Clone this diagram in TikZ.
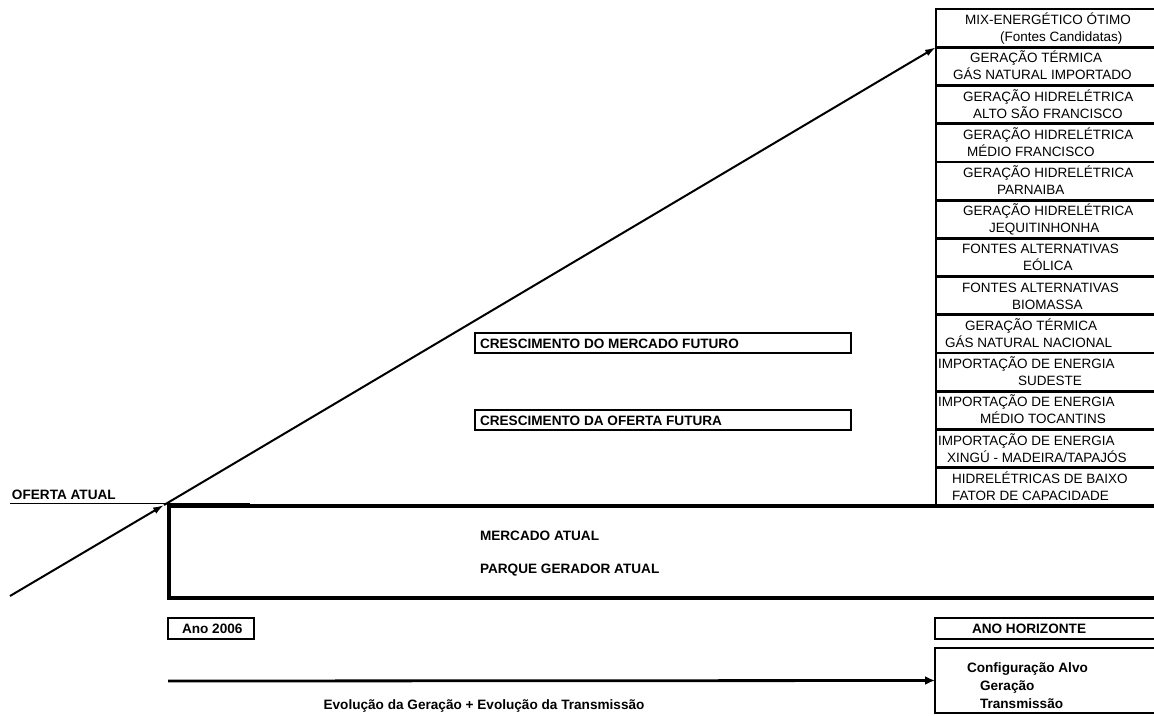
\documentclass[tikz,border=0pt]{standalone}
\usepackage{fontspec}
\setmainfont{Liberation Sans}
\usetikzlibrary{arrows.meta}
\begin{document}
\begin{tikzpicture}[x=1pt,y=-1pt,
  every node/.style={inner sep=0pt,outer sep=0pt},
  lbl/.style={anchor=base west,font=\fontsize{13.5}{15}\selectfont},
  blbl/.style={anchor=base west,font=\bfseries\fontsize{13.6}{15}\selectfont},
  rowbox/.style={draw,line width=2.8pt,minimum width=240pt,minimum height=38.23pt,anchor=north west},
  framebox/.style={draw,line width=2.8pt},
  arr/.style={line width=2pt,-{Latex[length=11pt,width=7pt]}},
  heavy/.style={line width=3.3pt}]
\clip (0,0) rectangle (1154,715);
% stack of candidate sources
\foreach \i in {1,...,13}{
  \node[rowbox] (r\i) at (936,{9+(\i-1)*38.23}) {};
}
\node[lbl] (t1a) at (965,24.5) {MIX-ENERGÉTICO ÓTIMO};
\node[lbl] (t1b) at (1000,41.5) {(Fontes Candidatas)};
\node[lbl] (t2a) at (970,62.7) {GERAÇÃO TÉRMICA};
\node[lbl] (t2b) at (953,79.7) {GÁS NATURAL IMPORTADO};
\node[lbl] (t3a) at (963,101) {GERAÇÃO HIDRELÉTRICA};
\node[lbl] (t3b) at (973,118) {ALTO SÃO FRANCISCO};
\node[lbl] (t4a) at (963,139.2) {GERAÇÃO HIDRELÉTRICA};
\node[lbl] (t4b) at (967,156.2) {MÉDIO FRANCISCO};
\node[lbl] (t5a) at (963,177.4) {GERAÇÃO HIDRELÉTRICA};
\node[lbl] (t5b) at (997,194.4) {PARNAIBA};
\node[lbl] (t6a) at (963,215.7) {GERAÇÃO HIDRELÉTRICA};
\node[lbl] (t6b) at (989,232.7) {JEQUITINHONHA};
\node[lbl] (t7a) at (962,253.9) {FONTES ALTERNATIVAS};
\node[lbl] (t7b) at (1023,270.9) {EÓLICA};
\node[lbl] (t8a) at (962,292.1) {FONTES ALTERNATIVAS};
\node[lbl] (t8b) at (1012,309.1) {BIOMASSA};
\node[lbl] (t9a) at (965,330.3) {GERAÇÃO TÉRMICA};
\node[lbl] (t9b) at (945,347.3) {GÁS NATURAL NACIONAL};
\node[lbl] (t10a) at (938,368.6) {IMPORTAÇÃO DE ENERGIA};
\node[lbl] (t10b) at (1018,385.6) {SUDESTE};
\node[lbl] (t11a) at (938,406.8) {IMPORTAÇÃO DE ENERGIA};
\node[lbl] (t11b) at (980,423.8) {MÉDIO TOCANTINS};
\node[lbl] (t12a) at (938,445) {IMPORTAÇÃO DE ENERGIA};
\node[lbl] (t12b) at (947,462) {XINGÚ - MADEIRA/TAPAJÓS};
\node[lbl] (t13a) at (952,483.3) {HIDRELÉTRICAS DE BAIXO};
\node[lbl] (t13b) at (952,500.3) {FATOR DE CAPACIDADE};
% current market / generation park
\draw[heavy] (1160,506) -- (169,506) -- (169,598) -- (1160,598);
\node[blbl] (merc) at (480,540) {MERCADO ATUAL};
\node[blbl] (parq) at (480,573) {PARQUE GERADOR ATUAL};
% oferta atual
\node[blbl] (oferta) at (12,499) {OFERTA ATUAL};
\coordinate (ol) at (10,503.5);
\coordinate (or) at (250,503.5);
\draw[line width=1.8pt] (ol) -- (or);
% growth boxes
\node[framebox,anchor=north west,minimum width=376pt,minimum height=20pt] (cm) at (475,333) {};
\node[blbl] (cmt) at (480,348) {CRESCIMENTO DO MERCADO FUTURO};
\node[framebox,anchor=north west,minimum width=376pt,minimum height=20pt] (co) at (475,410) {};
\node[blbl] (cot) at (480,425) {CRESCIMENTO DA OFERTA FUTURA};
% diagonal arrows
\coordinate (a0) at (10,596);
\coordinate (o) at (164,505);
\draw[arr] (a0) -- (o);
\draw[arr] (o) -- (r1.south west);
% year boxes
\node[framebox,minimum width=86pt,minimum height=21pt] (ano) at (211,628.5) {};
\node[blbl] (anot) at (182,633) {Ano 2006};
\node[framebox,anchor=north west,minimum width=240pt,minimum height=21pt] (hor) at (935,618) {};
\node[blbl] (hort) at (972,633) {ANO HORIZONTE};
% target configuration
\node[framebox,anchor=north west,minimum width=240pt,minimum height=65pt] (cfg) at (935,648) {};
\node[blbl] (cfg1) at (967,672) {Configuração Alvo};
\node[blbl] (cfg2) at (980,690) {Geração};
\node[blbl] (cfg3) at (980,708) {Transmissão};
% evolution arrow
\coordinate (e0) at (168,681);
\draw[line width=2.8pt,-{Latex[length=10pt,width=9pt]}] (e0) -- (cfg.west);
\node[anchor=base,font=\bfseries\fontsize{13.6}{15}\selectfont] (evo) at (484,709) {Evolução da Geração + Evolução da Transmissão};
\end{tikzpicture}
\end{document}
